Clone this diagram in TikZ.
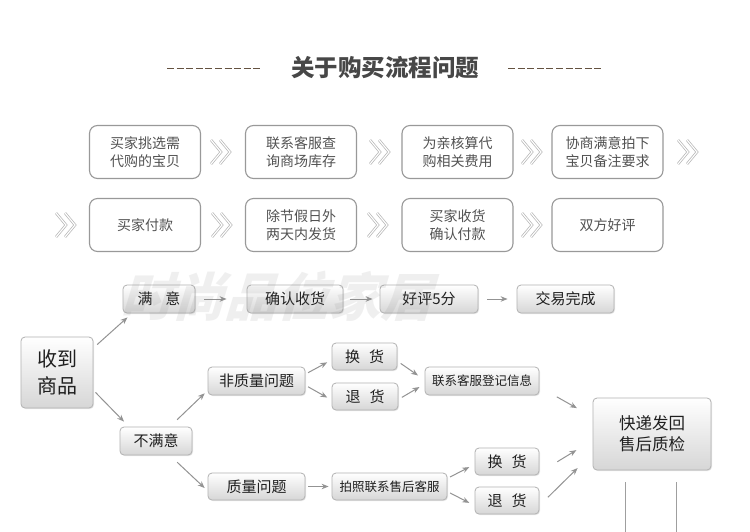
\documentclass[tikz,border=0pt]{standalone}
\usepackage{fontspec}
\newfontfamily\cjk{Noto Sans CJK SC}
\newfontfamily\cjkslant[FakeSlant=0.3]{Noto Sans CJK SC}
\usetikzlibrary{arrows.meta,shadows}
\definecolor{dashbrown}{RGB}{100,82,64}

\tikzset{
  stepbox/.style={draw=gray!80, line width=1.1pt, rounded corners=8pt, fill=white,
    minimum width=111pt, minimum height=53pt, inner sep=0pt, align=center,
    text=black!68, font=\cjk\fontsize{14}{18}\selectfont},
  flowbox/.style={draw=gray!60, line width=0.8pt, rounded corners=4pt,
    top color=white, bottom color=gray!32,
    drop shadow={opacity=0.2, shadow xshift=1pt, shadow yshift=-1pt},
    minimum height=28pt, inner sep=0pt, align=center,
    text=black!88, font=\cjk\fontsize{15}{19}\selectfont},
  arr/.style={-{Stealth[length=7pt,width=5.5pt]}, draw=gray!85, line width=1pt,
    shorten >=3pt, shorten <=3pt},
  chev/.pic={
    \draw[gray!55, line width=2.6pt] (-10,-12) -- (0,0) -- (-10,12) (-1,-12) -- (9,0) -- (-1,12);
    \draw[white, line width=1.1pt] (-10,-12) -- (0,0) -- (-10,12) (-1,-12) -- (9,0) -- (-1,12);
  }
}

\begin{document}
\begin{tikzpicture}[x=1pt,y=-1pt]
  \fill[white] (0,0) rectangle (750,531);
  \useasboundingbox (0,0) rectangle (750,531);

  % title
  \node[font=\cjk\bfseries\fontsize{23.5}{28}\selectfont, text=black!72] (title) at (385,68) {关于购买流程问题};
  \draw[dashbrown, line width=0.9pt, dash pattern=on 7pt off 2.6pt] (167,68) -- (262,68) (508,68) -- (603,68);

  % purchase steps
  \node[stepbox] (s1) at (145,152) {买家挑选需\\代购的宝贝};
  \node[stepbox] (s2) at (301,152) {联系客服查\\询商场库存};
  \node[stepbox] (s3) at (457.5,152) {为亲核算代\\购相关费用};
  \node[stepbox] (s4) at (607.5,152) {协商满意拍下\\宝贝备注要求};
  \node[stepbox] (s5) at (145,225) {买家付款};
  \node[stepbox] (s6) at (301,225) {除节假日外\\两天内发货};
  \node[stepbox] (s7) at (457.5,225) {买家收货\\确认付款};
  \node[stepbox] (s8) at (607.5,225) {双方好评};
  \foreach \x/\y in {221/152, 380/152, 532/152, 688/152, 66/225, 222/225, 378/225, 532/225}
    \pic at (\x,\y) {chev};

  % after receiving
  \node[flowbox, minimum width=72pt] (manyi) at (159,299) {满\hspace{13pt}意};
  \node[flowbox, minimum width=96pt] (queren) at (295,299) {确认收货};
  \node[flowbox, minimum width=98pt] (haoping) at (429,299) {好评5分};
  \node[flowbox, minimum width=97pt] (jiaoyi) at (565.5,299) {交易完成};
  \node[flowbox, minimum width=72pt, minimum height=71pt, font=\cjk\fontsize{20}{27}\selectfont] (shoudao) at (57,372.5) {收到\\商品};
  \node[flowbox, minimum width=72pt] (buman) at (156,441) {不满意};
  \node[flowbox, minimum width=97pt] (feizhi) at (256.5,381) {非质量问题};
  \node[flowbox, minimum width=65pt, minimum height=27pt] (huan1) at (364.5,356.5) {换\hspace{9pt}货};
  \node[flowbox, minimum width=66pt, minimum height=27pt] (tui1) at (365,396.5) {退\hspace{9pt}货};
  \node[flowbox, minimum width=114pt, font=\cjk\fontsize{12.5}{15}\selectfont] (lianxi) at (482,381) {联系客服登记信息};
  \node[flowbox, minimum width=118pt, minimum height=72pt, font=\cjk\fontsize{16.5}{21}\selectfont] (kuaidi) at (652,434) {快递发回\\售后质检};
  \node[flowbox, minimum width=97pt, minimum height=27pt] (zhiliang) at (256.5,486.5) {质量问题};
  \node[flowbox, minimum width=115pt, minimum height=27pt, font=\cjk\fontsize{12.5}{15}\selectfont] (paizhao) at (389.5,486.5) {拍照联系售后客服};
  \node[flowbox, minimum width=64pt, minimum height=27pt] (huan2) at (507,461.5) {换\hspace{9pt}货};
  \node[flowbox, minimum width=64pt, minimum height=27pt] (tui2) at (507,500.5) {退\hspace{9pt}货};

  \draw[arr, shorten <=9pt, shorten >=20pt] (manyi) -- (queren);
  \draw[arr, shorten <=7pt, shorten >=7pt] (queren) -- (haoping);
  \draw[arr, shorten <=9pt, shorten >=9pt] (haoping) -- (jiaoyi);
  \draw[arr, shorten <=5pt, shorten >=6pt] (shoudao.34) -- (manyi.208);
  \draw[arr, shorten >=7pt] (shoudao.334) -- (buman.152);
  \draw[arr, shorten <=10pt, shorten >=4pt] (buman.46) -- (feizhi.191);
  \draw[arr, shorten <=10pt, shorten >=4pt] (buman.314) -- (zhiliang.185);
  \draw[arr, shorten >=5pt] (feizhi.8) -- (huan1.186);
  \draw[arr, shorten >=5pt] (feizhi.355) -- (tui1.186);
  \draw[arr, shorten <=4pt, shorten >=8pt] (huan1.352) -- (lianxi.179);
  \draw[arr, shorten <=4pt, shorten >=6pt] (tui1.355) -- (lianxi.183);
  \draw[arr, shorten <=20pt, shorten >=18pt] (lianxi.354) -- (kuaidi.164);
  \draw[arr] (zhiliang.east) -- (paizhao.west);
  \draw[arr, shorten >=6pt] (paizhao.8) -- (huan2.185);
  \draw[arr, shorten >=6pt] (paizhao.355) -- (tui2.189);
  \draw[arr, shorten <=21pt, shorten >=19pt] (huan2.341) -- (kuaidi.186);
  \draw[arr, shorten <=12pt, shorten >=21pt] (tui2.351) -- (kuaidi.198);
  \draw[gray!75, line width=1pt] ([xshift=-27pt,yshift=-12pt]kuaidi.south) -- ++(0,50)
    ([xshift=24pt,yshift=-12pt]kuaidi.south) -- ++(0,50);

  % watermark
  \node[font=\cjkslant\bfseries\fontsize{52}{52}\selectfont, text=gray, opacity=0.12] (wm) at (276,296) {时尚品位家居};
\end{tikzpicture}
\end{document}
